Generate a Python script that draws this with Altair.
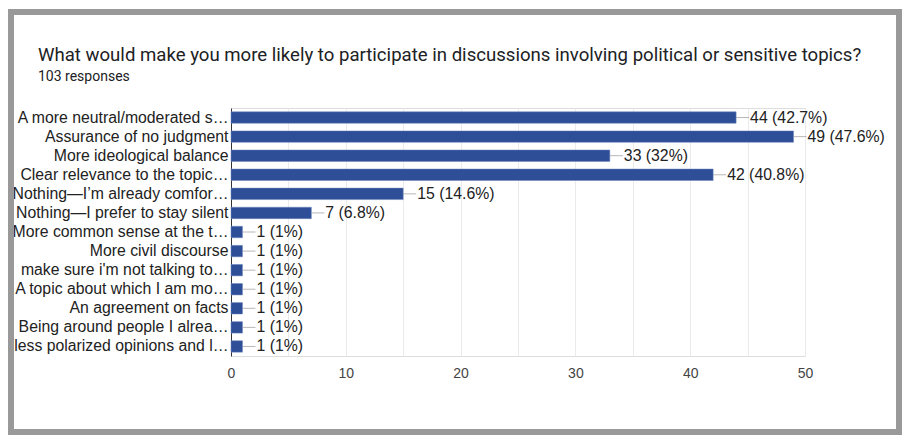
import altair as alt
import pandas as pd

labels = [
    "A more neutral/moderated s…",
    "Assurance of no judgment",
    "More ideological balance",
    "Clear relevance to the topic…",
    "Nothing—I’m already comfor…",
    "Nothing—I prefer to stay silent",
    "More common sense at the t…",
    "More civil discourse",
    "make sure i'm not talking to…",
    "A topic about which I am mo…",
    "An agreement on facts",
    "Being around people I alrea…",
    "less polarized opinions and l…",
]
counts = [44, 49, 33, 42, 15, 7, 1, 1, 1, 1, 1, 1, 1]
percents = ["42.7%", "47.6%", "32%", "40.8%", "14.6%", "6.8%",
            "1%", "1%", "1%", "1%", "1%", "1%", "1%"]
x_ticks = [0, 5, 10, 15, 20, 25, 30, 35, 40, 45, 50]

title_text = "What would make you more likely to participate in discussions involving political or sensitive topics?"
subtitle_text = "103 responses"

df = pd.DataFrame({
    "label": labels,
    "count": counts,
    "text": [f"{c} ({p})" for c, p in zip(counts, percents)],
})

FONT = "Liberation Sans"
BAR = "#2e4e97"

y_enc = alt.Y(
    "label:N",
    sort=labels,
    title=None,
    scale=alt.Scale(paddingInner=0.4, paddingOuter=0.2),
    axis=alt.Axis(
        ticks=False,
        domain=True,
        domainColor="#333333",
        domainWidth=1,
        labelFont=FONT,
        labelFontSize=15.8,
        labelColor="#222222",
        labelPadding=3,
        labelLimit=300,
        grid=False,
    ),
)
x_enc = alt.X(
    "count:Q",
    title=None,
    scale=alt.Scale(domain=[0, 50], nice=False),
    axis=alt.Axis(
        values=x_ticks,
        labelExpr="datum.value % 10 == 0 ? datum.label : ''",
        ticks=False,
        tickSize=0,
        domain=False,
        grid=True,
        gridColor="#ebebeb",
        gridWidth=1,
        labelFont=FONT,
        labelFontSize=14,
        labelColor="#444444",
        labelPadding=10,
        labelFlush=False,
    ),
)

base = alt.Chart(df)

bars = base.mark_bar(color=BAR, stroke="#6f86bd", strokeWidth=0.5).encode(x=x_enc, y=y_enc)

leader = base.mark_tick(color="#999999", orient="horizontal", thickness=1, size=13, xOffset=6.5).encode(
    x="count:Q", y=alt.Y("label:N", sort=labels)
)

texts = base.mark_text(align="left", baseline="middle", dx=14, font=FONT, fontSize=15.8, color="#222222").encode(
    x="count:Q", y=alt.Y("label:N", sort=labels), text="text:N"
)

one = pd.DataFrame({"k": [0]})

frame = alt.Chart(one).mark_rect(fill=None, stroke="#999999", strokeWidth=6).encode(
    x=alt.value(-220), x2=alt.value(668), y=alt.value(-96), y2=alt.value(324)
)

title = alt.Chart(one).mark_text(
    align="left", baseline="alphabetic", font="Roboto", fontSize=18.6, color="#202124"
).encode(x=alt.value(-193), y=alt.value(-47), text=alt.value(title_text))

subtitle = alt.Chart(one).mark_text(
    align="left", baseline="alphabetic", font="Roboto", fontSize=14, color="#202124"
).encode(x=alt.value(-193), y=alt.value(-27), text=alt.value(subtitle_text))

chart = alt.layer(bars, leader, texts, frame, title, subtitle).properties(
    width=574,
    height=248,
    autosize=alt.AutoSizeParams(type="none"),
    padding={"left": 223, "top": 100, "right": 99, "bottom": 80},
).configure_view(stroke="#ebebeb", strokeWidth=1).configure(background="white")

chart.save("out.html", embed_options={"renderer": "svg", "actions": False})
